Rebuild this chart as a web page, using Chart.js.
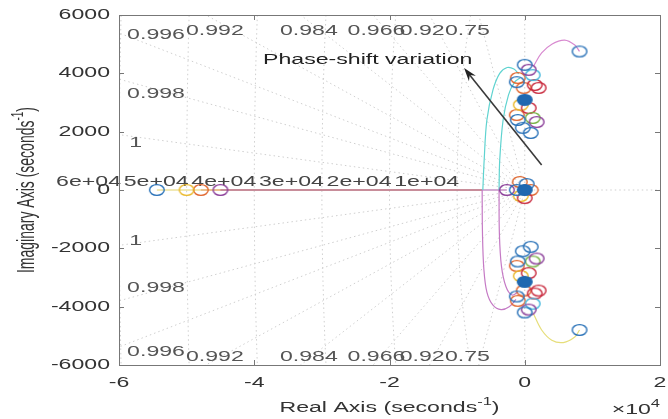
<!DOCTYPE html>
<html>
<head>
<meta charset="utf-8">
<script src="https://cdn.jsdelivr.net/npm/chart.js@4.4.0/dist/chart.umd.min.js"></script>
<style>
  html, body { margin: 0; padding: 0; background: #fff; }
</style>
</head>
<body>
<canvas id="locus" width="668" height="419"></canvas>
<script>
// axis ticks
const xTicks = [-60000, -40000, -20000, 0, 20000];
const yTicks = [-6000, -4000, -2000, 0, 2000, 4000, 6000];

// sgrid values
const dampingRatios = [0.75, 0.92, 0.966, 0.984, 0.992, 0.996, 0.998, 0.9995];
const naturalFreqs = [10000, 20000, 30000, 40000, 50000, 60000];
const freqLabels = ['1e+04', '2e+04', '3e+04', '4e+04', '5e+04', '6e+04'];

// damping labels (text + where they sit, in axis units)
const dampingLabels = [
  { t: '0.996', x: -58800, y: 5300 }, { t: '0.992', x: -50100, y: 5450 },
  { t: '0.984', x: -36200, y: 5450 }, { t: '0.966', x: -26200, y: 5450 },
  { t: '0.92', x: -18500, y: 5450 }, { t: '0.75', x: -11800, y: 5450 },
  { t: '0.998', x: -58800, y: 3300 }, { t: '1', x: -58500, y: 1600 },
  { t: '1', x: -58500, y: -1750 }, { t: '0.998', x: -58800, y: -3350 },
  { t: '0.996', x: -58800, y: -5550 }, { t: '0.992', x: -50100, y: -5720 },
  { t: '0.984', x: -36200, y: -5720 }, { t: '0.966', x: -26200, y: -5720 },
  { t: '0.92', x: -18500, y: -5720 }, { t: '0.75', x: -11800, y: -5720 }
];

// locus branches
const realYellow = [{ x: -54400, y: 0 }, { x: -6300, y: 0 }];
const realOrange = [{ x: -47900, y: 0 }, { x: -6300, y: 0 }];
const realPurple = [{ x: -45000, y: 0 }, { x: -2650, y: 0 }];
const cyanOuter = [
  { x: -6200, y: 0 }, { x: -6000, y: 1030 }, { x: -5600, y: 2400 }, { x: -4700, y: 3430 },
  { x: -3700, y: 4000 }, { x: -2600, y: 4200 }, { x: -1600, y: 4150 }, { x: -900, y: 3980 }
];
const cyanInner = [
  { x: -3800, y: 0 }, { x: -3700, y: 1030 }, { x: -3200, y: 2400 }, { x: -2400, y: 3260 },
  { x: -1500, y: 3700 }, { x: -700, y: 3840 }
];
const purpleOuter = [
  { x: -6300, y: 0 }, { x: -6250, y: -1500 }, { x: -6050, y: -2700 }, { x: -5600, y: -3500 },
  { x: -4700, y: -3950 }, { x: -3500, y: -4100 }, { x: -2300, y: -4000 }, { x: -1300, y: -3750 }
];
const purpleInner = [
  { x: -3800, y: 0 }, { x: -3750, y: -1500 }, { x: -3450, y: -2600 }, { x: -2800, y: -3300 },
  { x: -1900, y: -3600 }, { x: -1000, y: -3500 }
];
const upperArc = [
  { x: 1300, y: 4250 }, { x: 2500, y: 4700 }, { x: 4000, y: 5000 },
  { x: 5900, y: 5140 }, { x: 7400, y: 4970 }, { x: 8100, y: 4750 }
];
const lowerArc = [
  { x: 1300, y: -4250 }, { x: 2500, y: -4800 }, { x: 4000, y: -5150 },
  { x: 5700, y: -5230 }, { x: 7400, y: -5040 }, { x: 8100, y: -4800 }
];

// zeros (rings), grouped by colour
const blueRings = [
  { x: -54400, y: 0 }, { x: 8100, y: 4750 }, { x: 8100, y: -4800 },
  { x: 0, y: 4290 }, { x: -1180, y: 3700 }, { x: -290, y: 2130 }, { x: 880, y: 1955 }, { x: -1030, y: 2400 },
  { x: 0, y: -4200 }, { x: -1180, y: -3650 }, { x: -290, y: -2100 }, { x: 880, y: -1950 }, { x: -1030, y: -2450 },
  { x: -1180, y: 0 }, { x: 290, y: 205 }
];
const orangeRings = [
  { x: -47900, y: 0 }, { x: -1030, y: 3840 }, { x: -150, y: 3500 }, { x: -1180, y: 2570 },
  { x: -1030, y: -3800 }, { x: -150, y: -3450 }, { x: -1180, y: -2600 },
  { x: -735, y: 275 }, { x: 880, y: 0 }
];
const yellowRings = [
  { x: -50000, y: 0 }, { x: -590, y: 2920 }, { x: -590, y: -2950 }, { x: -590, y: -205 }
];
const purpleRings = [
  { x: -45000, y: 0 }, { x: -2650, y: 0 }, { x: 590, y: 4120 }, { x: 1760, y: 2330 },
  { x: 590, y: -4100 }, { x: 1760, y: -2350 }
];
const cyanRings = [{ x: 1180, y: 3940 }, { x: 1180, y: -3900 }];
const redRings = [
  { x: 1470, y: 3600 }, { x: 2060, y: 3500 }, { x: 590, y: 2810 },
  { x: 1470, y: -3550 }, { x: 2060, y: -3450 }, { x: 590, y: -2850 }, { x: 0, y: -275 }
];
const greenRings = [{ x: 1180, y: 2470 }, { x: 1180, y: -2450 }];
const filledDots = [{ x: 0, y: 3090 }, { x: 0, y: -3150 }, { x: 0, y: 0 }];

// annotation
const arrowTail = { x: 2500, y: 860 };
const arrowHead = { x: -8970, y: 4180 };
const noteText = 'Phase-shift variation';
const notePos = { x: -38700, y: 4460 };

const SX = 1.65;   // the source picture is stretched sideways
const FONT = '"Liberation Sans", Arial, sans-serif';

function ring(color, filled) {
  const c = document.createElement('canvas');
  c.width = 18; c.height = 14;
  const g = c.getContext('2d');
  g.beginPath();
  g.ellipse(9, 7, 7.3, 5.4, 0, 0, Math.PI * 2);
  if (filled) { g.fillStyle = color; g.fill(); }
  g.strokeStyle = color;
  g.lineWidth = 1.4;
  g.stroke();
  return c;
}

function textW(ctx, s, size) {
  ctx.font = size + 'px ' + FONT;
  return ctx.measureText(s).width * SX;
}

// draws text squeezed sideways like the source; parts may be superscripts
function drawParts(ctx, parts, x, y, align, color) {
  let total = 0;
  parts.forEach(p => { total += textW(ctx, p.t, p.sup ? 10 : 14); });
  let left = x;
  if (align === 'right') left = x - total;
  else if (align === 'center') left = x - total / 2;
  ctx.save();
  ctx.fillStyle = color;
  ctx.textBaseline = 'middle';
  ctx.textAlign = 'left';
  parts.forEach(p => {
    const size = p.sup ? 10 : 14;
    ctx.font = size + 'px ' + FONT;
    ctx.save();
    ctx.translate(left, y + (p.sup ? -6 : 0));
    ctx.scale(SX, 1);
    ctx.fillText(p.t, 0, 0);
    ctx.restore();
    left += textW(ctx, p.t, size);
  });
  ctx.restore();
}

const sgridPlugin = {
  id: 'sgrid',
  beforeDatasetsDraw(chart) {
    const { ctx, chartArea: a, scales: { x, y } } = chart;
    ctx.save();
    ctx.beginPath();
    ctx.rect(a.left, a.top, a.right - a.left, a.bottom - a.top);
    ctx.clip();
    ctx.strokeStyle = '#cfcfcf';
    ctx.lineWidth = 1;
    ctx.setLineDash([1.5, 3]);
    dampingRatios.forEach(z => {
      const k = Math.sqrt(1 - z * z) / z;
      [1, -1].forEach(s => {
        ctx.beginPath();
        ctx.moveTo(x.getPixelForValue(0), y.getPixelForValue(0));
        ctx.lineTo(x.getPixelForValue(-80000), y.getPixelForValue(s * 80000 * k));
        ctx.stroke();
      });
    });
    naturalFreqs.forEach(r => {
      ctx.beginPath();
      for (let i = 0; i <= 90; i++) {
        const ph = Math.PI / 2 + Math.PI * i / 90;
        const px = x.getPixelForValue(r * Math.cos(ph));
        const py = y.getPixelForValue(r * Math.sin(ph));
        if (i === 0) ctx.moveTo(px, py); else ctx.lineTo(px, py);
      }
      ctx.stroke();
    });
    // imaginary axis and positive real axis
    ctx.beginPath();
    ctx.moveTo(x.getPixelForValue(0), a.top);
    ctx.lineTo(x.getPixelForValue(0), a.bottom);
    ctx.moveTo(x.getPixelForValue(0), y.getPixelForValue(0));
    ctx.lineTo(a.right, y.getPixelForValue(0));
    ctx.stroke();
    ctx.restore();

    // grid labels
    dampingLabels.forEach(l => {
      drawParts(ctx, [{ t: l.t }], x.getPixelForValue(l.x), y.getPixelForValue(l.y), 'left', '#555');
    });
    naturalFreqs.forEach((r, i) => {
      drawParts(ctx, [{ t: freqLabels[i] }], x.getPixelForValue(-r) + 2, y.getPixelForValue(0) - 8, 'right', '#444');
    });
  },
  afterDatasetsDraw(chart) {
    const { ctx, chartArea: a, scales: { x, y } } = chart;
    // arrow
    const x1 = x.getPixelForValue(arrowTail.x), y1 = y.getPixelForValue(arrowTail.y);
    const x2 = x.getPixelForValue(arrowHead.x), y2 = y.getPixelForValue(arrowHead.y);
    const ang = Math.atan2(y2 - y1, x2 - x1);
    ctx.save();
    ctx.strokeStyle = '#3a3a3a';
    ctx.fillStyle = '#222';
    ctx.lineWidth = 1.6;
    ctx.beginPath();
    ctx.moveTo(x1, y1);
    ctx.lineTo(x2 - 8 * Math.cos(ang), y2 - 8 * Math.sin(ang));
    ctx.stroke();
    ctx.beginPath();
    ctx.moveTo(x2, y2);
    ctx.lineTo(x2 - 14 * Math.cos(ang - 0.32), y2 - 14 * Math.sin(ang - 0.32));
    ctx.lineTo(x2 - 9 * Math.cos(ang), y2 - 9 * Math.sin(ang));
    ctx.lineTo(x2 - 14 * Math.cos(ang + 0.32), y2 - 14 * Math.sin(ang + 0.32));
    ctx.closePath();
    ctx.fill();
    ctx.restore();
    drawParts(ctx, [{ t: noteText }], x.getPixelForValue(notePos.x), y.getPixelForValue(notePos.y), 'left', '#222');

    // axes box with inward ticks
    ctx.save();
    ctx.strokeStyle = '#777';
    ctx.lineWidth = 1;
    ctx.strokeRect(a.left + 0.5, a.top + 0.5, a.right - a.left, a.bottom - a.top);
    ctx.beginPath();
    xTicks.forEach(v => {
      const px = Math.round(x.getPixelForValue(v)) + 0.5;
      ctx.moveTo(px, a.bottom); ctx.lineTo(px, a.bottom - 5);
      ctx.moveTo(px, a.top); ctx.lineTo(px, a.top + 5);
    });
    yTicks.forEach(v => {
      const py = Math.round(y.getPixelForValue(v)) + 0.5;
      ctx.moveTo(a.left, py); ctx.lineTo(a.left + 5, py);
      ctx.moveTo(a.right, py); ctx.lineTo(a.right - 5, py);
    });
    ctx.stroke();
    ctx.restore();

    // tick labels
    xTicks.forEach(v => {
      drawParts(ctx, [{ t: String(v / 10000) }], x.getPixelForValue(v), a.bottom + 18, 'center', '#333');
    });
    yTicks.forEach(v => {
      drawParts(ctx, [{ t: String(v) }], a.left - 9, y.getPixelForValue(v), 'right', '#333');
    });

    // axis titles
    drawParts(ctx, [{ t: 'Real Axis (seconds' }, { t: '-1', sup: true }, { t: ')' }],
      (a.left + a.right) / 2, a.bottom + 43, 'center', '#333');
    drawParts(ctx, [{ t: '\u00d710' }, { t: '4', sup: true }], a.right, a.bottom + 45, 'right', '#333');

    ctx.save();
    ctx.translate(28, (a.top + a.bottom) / 2);
    ctx.scale(SX, 1);
    ctx.rotate(-Math.PI / 2);
    ctx.fillStyle = '#333';
    ctx.textBaseline = 'middle';
    const p1 = 'Imaginary Axis (seconds', p2 = '-1', p3 = ')';
    ctx.font = '14px ' + FONT;
    const w1 = ctx.measureText(p1).width, w3 = ctx.measureText(p3).width;
    ctx.font = '10px ' + FONT;
    const w2 = ctx.measureText(p2).width;
    let sx = -(w1 + w2 + w3) / 2;
    ctx.font = '14px ' + FONT;
    ctx.fillText(p1, sx, 0);
    ctx.font = '10px ' + FONT;
    ctx.fillText(p2, sx + w1, -6);
    ctx.font = '14px ' + FONT;
    ctx.fillText(p3, sx + w1 + w2, 0);
    ctx.restore();
  }
};

function lineSet(data, color) {
  return { data, showLine: true, borderColor: color, borderWidth: 1.2, pointRadius: 0, fill: false, tension: 0.35 };
}
function ringSet(data, color, filled) {
  return { data, showLine: false, pointStyle: ring(color, filled), pointRadius: 7 };
}

// listed bottom layer first; Chart.js paints dataset 0 last, hence reverse()
const layers = [
  lineSet(realYellow, '#e4d36a'),
  lineSet(realOrange, '#e49a6a'),
  lineSet(realPurple, '#a85aa8'),
  lineSet(cyanOuter, '#5fd3d0'),
  lineSet(cyanInner, '#5fd3d0'),
  lineSet(purpleOuter, '#c57ac5'),
  lineSet(purpleInner, '#c57ac5'),
  lineSet(upperArc, '#d88ad0'),
  lineSet(lowerArc, '#e6de7a'),
  ringSet(orangeRings, '#e0662e'),
  ringSet(yellowRings, '#eab92c'),
  ringSet(redRings, '#c8283c'),
  ringSet(greenRings, '#74b040'),
  ringSet(cyanRings, '#3fb6dc'),
  ringSet(purpleRings, '#8a3c98'),
  ringSet(blueRings, '#2a72b8'),
  ringSet(filledDots, '#1f68b0', true)
].reverse();

new Chart(document.getElementById('locus'), {
  type: 'scatter',
  data: { datasets: layers },
  options: {
    responsive: false,
    animation: false,
    events: [],
    layout: { padding: { left: 0, right: 6, top: 15, bottom: 0 } },
    plugins: { legend: { display: false }, tooltip: { enabled: false } },
    scales: {
      x: {
        type: 'linear', min: -60000, max: 20000,
        grid: { display: false }, border: { display: false },
        ticks: { display: false },
        afterFit: s => { s.height = 54; }
      },
      y: {
        type: 'linear', min: -6000, max: 6000,
        grid: { display: false }, border: { display: false },
        ticks: { display: false },
        afterFit: s => { s.width = 119; }
      }
    }
  },
  plugins: [sgridPlugin]
});
</script>
</body>
</html>
